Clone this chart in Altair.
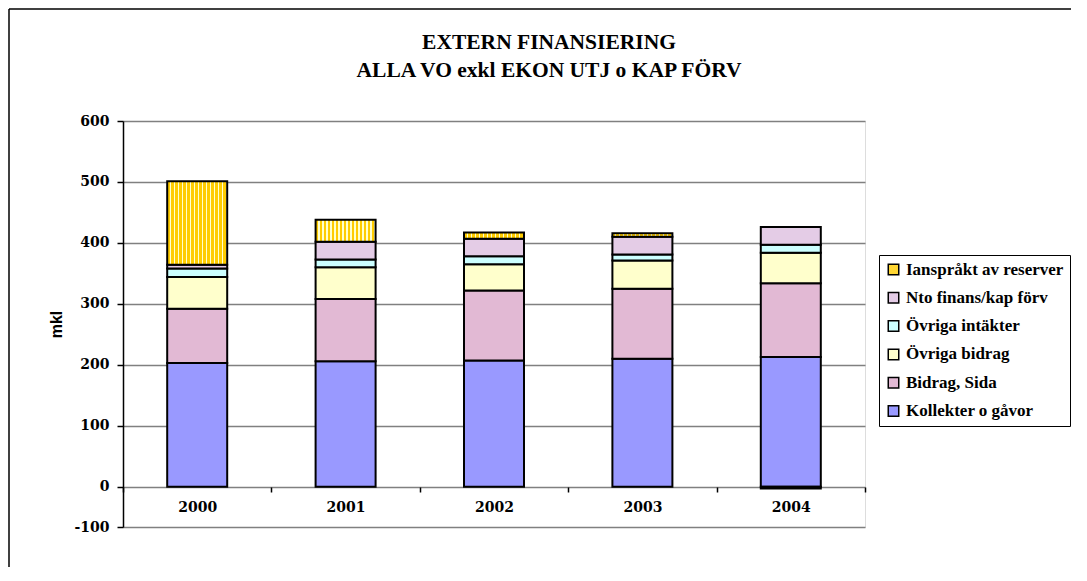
import altair as alt
import pandas as pd

years = ["2000", "2001", "2002", "2003", "2004"]
series_names = [
    "Ianspråkt av reserver",
    "Nto finans/kap förv",
    "Övriga intäkter",
    "Övriga bidrag",
    "Bidrag, Sida",
    "Kollekter o gåvor",
]
series_colors = ["#FFD633", "#E4CCE6", "#CCFFFF", "#FFFFCC", "#E2B9D4", "#9999FF"]

kollekter = [203, 206, 207, 210, 213]
bidrag_sida = [89, 102, 115, 115, 121]
ovriga_bidrag = [52, 52, 43, 46, 50]
ovriga_intakter = [14, 13, 13, 10, 13]
nto_finans = [6, 29, 29, 29, 29]
iansprakt = [137, 36, 10, 6, -3]

y_ticks = [-66, 0, 100, 200, 300, 400, 500, 600]

values_by_series = {
    "Kollekter o gåvor": kollekter,
    "Bidrag, Sida": bidrag_sida,
    "Övriga bidrag": ovriga_bidrag,
    "Övriga intäkter": ovriga_intakter,
    "Nto finans/kap förv": nto_finans,
    "Ianspråkt av reserver": iansprakt,
}
stack_order = list(values_by_series.keys())

rows = []
for s, vals in values_by_series.items():
    for yr, v in zip(years, vals):
        rows.append({"year": yr, "serie": s, "value": v, "ord": stack_order.index(s)})
df = pd.DataFrame(rows)

# vertical stripe gradient for the reserve series
stops = []
n = 15
for i in range(n):
    a = i / n
    b = (i + 0.65) / n
    c = (i + 1) / n
    stops += [
        {"offset": a, "color": "#FFCC00"},
        {"offset": b, "color": "#FFCC00"},
        {"offset": b, "color": "#FFFFCC"},
        {"offset": c, "color": "#FFFFCC"},
    ]
stripes = {"gradient": "linear", "x1": 0, "y1": 0, "x2": 1, "y2": 0, "stops": stops}

bars = alt.Chart(df).mark_bar(size=60, stroke="black", strokeWidth=2).encode(
    x=alt.X(
        "year:N",
        title=None,
        scale=alt.Scale(paddingInner=0, paddingOuter=0),
        axis=alt.Axis(
            labelAngle=0,
            tickBand="extent",
            offset=-40,
            domain=False,
            tickColor="black",
            tickSize=5,
            tickWidth=1.5,
            labelPadding=8,
            labelFont="DejaVu Serif",
            labelFontSize=14,
            labelFontWeight="bold",
            labelColor="black",
            grid=False,
        ),
    ),
    y=alt.Y(
        "value:Q",
        title="mkl",
        stack="zero",
        scale=alt.Scale(domain=[-66, 600], nice=False, zero=False),
        axis=alt.Axis(
            values=y_ticks,
            labelExpr="datum.value < 0 ? '-100' : datum.label",
            domainColor="black",
            domainWidth=1.5,
            tickColor="black",
            tickSize=6,
            tickWidth=1.5,
            labelPadding=8,
            labelFont="DejaVu Serif",
            labelFontSize=14,
            labelFontWeight="bold",
            labelColor="black",
            gridColor="#808080",
            gridWidth=1.5,
            titleFont="Liberation Sans",
            titleFontSize=16,
            titleFontWeight="bold",
            titleColor="black",
            titlePadding=9,
        ),
    ),
    fill=alt.condition(
        "datum.serie === 'Ianspråkt av reserver'",
        alt.value(stripes),
        alt.Fill(
            "serie:N",
            scale=alt.Scale(domain=series_names, range=series_colors),
            legend=alt.Legend(
                title=None,
                orient="none",
                legendX=756,
                legendY=134,
                symbolType="square",
                symbolSize=110,
                symbolStrokeColor="black",
                symbolStrokeWidth=1.5,
                symbolOpacity=1,
                labelFont="Liberation Serif",
                labelFontSize=17,
                labelFontWeight="bold",
                labelColor="black",
                labelOffset=4,
                rowPadding=10.3,
                padding=6,
                strokeColor="black",
                fillColor="white",
                labelLimit=300,
            ),
        ),
    ),
    order=alt.Order("ord:Q", sort="ascending"),
)

frame_left = alt.Chart(alt.Data(values=[{}])).mark_rule(color="black", strokeWidth=1.5).encode(
    x=alt.value(-114), y=alt.value(-112), y2=alt.value(460)
)
frame_top = alt.Chart(alt.Data(values=[{}])).mark_rule(color="black", strokeWidth=1.5).encode(
    x=alt.value(-114), x2=alt.value(960), y=alt.value(-112)
)

chart = alt.layer(bars, frame_left, frame_top).properties(
    width=742,
    height=406,
    autosize=alt.AutoSizeParams(type="none"),
    padding={"left": 115, "top": 113, "right": 206, "bottom": 40},
    title=alt.TitleParams(
        text=["EXTERN FINANSIERING", "ALLA VO exkl EKON UTJ o KAP FÖRV"],
        font="Liberation Serif",
        fontSize=21.5,
        fontWeight="bold",
        lineHeight=28,
        color="black",
        anchor="middle",
        dx=55,
        offset=-73,
    ),
).configure_view(
    fill="#FFFFCC", stroke="#808080", strokeWidth=2
).configure(background="white")

chart.save("out.html", embed_options={"renderer": "svg", "actions": False})
